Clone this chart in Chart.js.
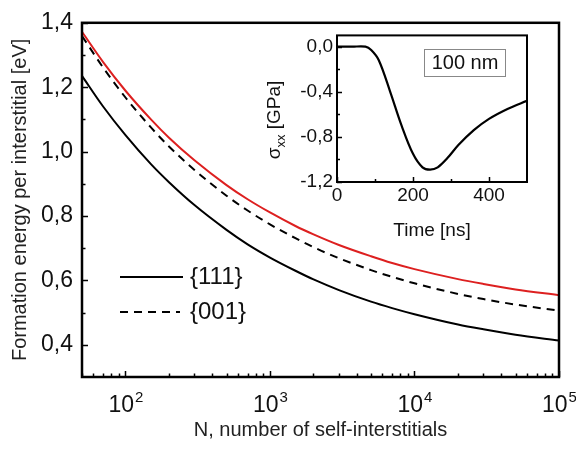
<!DOCTYPE html>
<html>
<head>
<meta charset="utf-8">
<script src="https://cdn.jsdelivr.net/npm/chart.js@4.4.1/dist/chart.umd.min.js"></script>
<style>
  html, body { margin: 0; padding: 0; background: #fff; }
  #wrap { position: relative; width: 576px; height: 450px; overflow: hidden; }
  #main { position: absolute; left: 0; top: 0; }
  #inset { position: absolute; left: 255px; top: 20px; }
</style>
</head>
<body>
<div id="wrap">
  <canvas id="main" width="576" height="450"></canvas>
  <canvas id="inset" width="281" height="240"></canvas>
</div>
<script>
// main plot: formation energy vs cluster size
const sizesN = [50, 70, 100, 150, 200, 300, 500, 700, 1000, 1500, 2000, 3000, 5000, 7000, 10000, 20000, 30000, 50000, 100000];
const energy111 = [1.235, 1.140, 1.051, 0.961, 0.905, 0.834, 0.757, 0.712, 0.671, 0.630, 0.603, 0.570, 0.534, 0.514, 0.495, 0.463, 0.448, 0.431, 0.413];
const energy001 = [1.359, 1.261, 1.168, 1.075, 1.016, 0.943, 0.863, 0.817, 0.774, 0.731, 0.703, 0.669, 0.632, 0.611, 0.591, 0.558, 0.542, 0.525, 0.506];
const energyRed = [1.372, 1.278, 1.189, 1.100, 1.043, 0.973, 0.896, 0.852, 0.811, 0.769, 0.743, 0.710, 0.675, 0.654, 0.635, 0.604, 0.589, 0.572, 0.554];
const xPowers = [2, 3, 4, 5];
const yTicks = [0.4, 0.6, 0.8, 1.0, 1.2, 1.4];
const yMinorTicks = [0.5, 0.7, 0.9, 1.1, 1.3];

// inset: stress vs time
const timeNs = [0, 40, 75, 90, 110, 140, 170, 200, 225, 245, 265, 290, 320, 360, 400, 450, 500];
const stressXX = [0, 0, 0, -0.03, -0.12, -0.40, -0.70, -0.95, -1.07, -1.09, -1.07, -0.99, -0.87, -0.74, -0.64, -0.55, -0.48];
const insetXTicks = [0, 200, 400];
const insetXMinor = [100, 300];
const insetYTicks = [-1.2, -0.8, -0.4, 0.0];
const insetYMinor = [-1.0, -0.6, -0.2];

const FONT = "'Liberation Sans', Arial, sans-serif";
const comma = v => Number(v).toFixed(1).replace(".", ",");
const pts = (xs, ys) => xs.map((x, i) => ({ x: x, y: ys[i] }));

// log minor ticks 60..90, 200..900, ...
const xMinorTicks = [];
for (let d = 10; d <= 10000; d *= 10) {
    for (let k = 2; k <= 9; k++) {
        if (k * d >= 50 && k * d < 100000) xMinorTicks.push(k * d);
    }
}

// frame + inward ticks
const frameTicks = {
    id: "frameTicks",
    afterDraw(chart, args, o) {
        const { ctx, chartArea: a, scales } = chart;
        const sx = scales.x, sy = scales.y;
        ctx.save();
        ctx.strokeStyle = "#000";
        ctx.lineWidth = 1.5;
        ctx.beginPath();
        const xt = (vals, len) => vals.forEach(v => {
            const p = Math.round(sx.getPixelForValue(v)) + 0.5;
            ctx.moveTo(p, a.bottom);
            ctx.lineTo(p, a.bottom - len);
        });
        const yt = (vals, len) => vals.forEach(v => {
            const p = Math.round(sy.getPixelForValue(v)) + 0.5;
            ctx.moveTo(a.left, p);
            ctx.lineTo(a.left + len, p);
        });
        xt(o.xMajor, o.major); xt(o.xMinor, o.minor);
        yt(o.yMajor, o.major); yt(o.yMinor, o.minor);
        ctx.stroke();
        ctx.lineWidth = o.frame;
        ctx.strokeRect(a.left, a.top, a.right - a.left, a.bottom - a.top);
        ctx.restore();
    }
};

// 10^n labels and the legend of the main plot
const mainDecor = {
    id: "mainDecor",
    afterDraw(chart) {
        const { ctx, scales: { x } } = chart;
        ctx.save();
        ctx.fillStyle = "#111";
        ctx.textBaseline = "alphabetic";
        xPowers.forEach(p => {
            const cx = x.getPixelForValue(Math.pow(10, p));
            ctx.font = "23px " + FONT;
            const w1 = ctx.measureText("10").width;
            ctx.font = "15px " + FONT;
            const w2 = ctx.measureText(String(p)).width;
            const left = cx - (w1 + w2) / 2;
            ctx.font = "23px " + FONT;
            ctx.fillText("10", left, 412);
            ctx.font = "15px " + FONT;
            ctx.fillText(String(p), left + w1 + 1, 402);
        });

        // legend
        ctx.strokeStyle = "#000";
        ctx.lineWidth = 2;
        ctx.beginPath();
        ctx.moveTo(120, 277); ctx.lineTo(183, 277);
        ctx.stroke();
        ctx.setLineDash([8, 6]);
        ctx.beginPath();
        ctx.moveTo(120, 312); ctx.lineTo(180, 312);
        ctx.stroke();
        ctx.setLineDash([]);
        ctx.font = "24px " + FONT;
        ctx.textBaseline = "middle";
        ctx.fillText("{111}", 190, 277);
        ctx.fillText("{001}", 190, 312);
        ctx.restore();
    }
};

new Chart(document.getElementById("main"), {
    type: "line",
    data: {
        datasets: [
            { label: "{111}", data: pts(sizesN, energy111), borderColor: "#000", borderWidth: 2 },
            { label: "{001}", data: pts(sizesN, energy001), borderColor: "#000", borderWidth: 2, borderDash: [8, 6] },
            { label: "other", data: pts(sizesN, energyRed), borderColor: "#dd2020", borderWidth: 2 }
        ]
    },
    options: {
        responsive: false,
        animation: false,
        events: [],
        layout: { padding: { left: 0, right: 17, top: 10, bottom: 0 }, autoPadding: false },
        elements: { point: { radius: 0 }, line: { cubicInterpolationMode: "monotone", fill: false } },
        plugins: {
            legend: { display: false },
            tooltip: { enabled: false },
            frameTicks: { xMajor: xPowers.map(p => Math.pow(10, p)), xMinor: xMinorTicks, yMajor: yTicks, yMinor: yMinorTicks, major: 6, minor: 3.5, frame: 2.5 }
        },
        scales: {
            x: {
                type: "logarithmic",
                min: 50,
                max: 100000,
                grid: { display: false, drawTicks: false },
                border: { display: false },
                ticks: { display: false },
                title: { display: true, text: "N, number of self-interstitials", color: "#222", font: { family: FONT, size: 20 }, padding: { top: 0, bottom: 8 } },
                afterFit: s => { s.height = 73; }
            },
            y: {
                min: 0.3,
                max: 1.4,
                grid: { display: false, drawTicks: false },
                border: { display: false },
                afterBuildTicks: s => { s.ticks = yTicks.map(v => ({ value: v })); },
                ticks: { color: "#111", padding: 9, font: { family: FONT, size: 23 }, callback: v => comma(v) },
                title: { display: true, text: "Formation energy per interstitial [eV]", color: "#222", font: { family: FONT, size: 20 }, padding: { top: 8, bottom: 0 } },
                afterFit: s => { s.width = 82; }
            }
        }
    },
    plugins: [frameTicks, mainDecor]
});

// inset decorations: sigma_xx title and the "100 nm" box
const insetDecor = {
    id: "insetDecor",
    afterDraw(chart) {
        const { ctx } = chart;
        ctx.save();
        ctx.fillStyle = "#111";
        ctx.strokeStyle = "#888";
        ctx.lineWidth = 1;
        ctx.strokeRect(169.5, 29.5, 81, 27);
        ctx.font = "20px " + FONT;
        ctx.textBaseline = "middle";
        ctx.textAlign = "center";
        ctx.fillText("100 nm", 210, 43);

        ctx.translate(20, 100);
        ctx.rotate(-Math.PI / 2);
        ctx.textAlign = "left";
        ctx.font = "19px " + FONT;
        const w1 = ctx.measureText("\u03c3").width;
        const w3 = ctx.measureText(" [GPa]").width;
        ctx.font = "13px " + FONT;
        const w2 = ctx.measureText("xx").width;
        let x0 = -(w1 + w2 + w3) / 2;
        ctx.font = "19px " + FONT;
        ctx.fillText("\u03c3", x0, 0);
        ctx.font = "13px " + FONT;
        ctx.fillText("xx", x0 + w1, 6);
        ctx.font = "19px " + FONT;
        ctx.fillText(" [GPa]", x0 + w1 + w2, 0);
        ctx.restore();
    }
};

new Chart(document.getElementById("inset"), {
    type: "line",
    data: {
        datasets: [
            { label: "stress", data: pts(timeNs, stressXX), borderColor: "#000", borderWidth: 2.2 }
        ]
    },
    options: {
        responsive: false,
        animation: false,
        events: [],
        layout: { padding: { left: 0, right: 9, top: 13, bottom: 0 }, autoPadding: false },
        elements: { point: { radius: 0 }, line: { tension: 0.35, fill: false } },
        plugins: {
            legend: { display: false },
            tooltip: { enabled: false },
            frameTicks: { xMajor: insetXTicks, xMinor: insetXMinor, yMajor: insetYTicks, yMinor: insetYMinor, major: 5, minor: 3, frame: 2 }
        },
        scales: {
            x: {
                type: "linear",
                min: 0,
                max: 500,
                grid: { display: false, drawTicks: false },
                border: { display: false },
                afterBuildTicks: s => { s.ticks = insetXTicks.map(v => ({ value: v })); },
                ticks: { color: "#111", padding: 2, maxRotation: 0, font: { family: FONT, size: 19 } },
                title: { display: true, text: "Time [ns]", color: "#111", font: { family: FONT, size: 19 }, padding: { top: 0, bottom: 18 } },
                afterFit: s => { s.height = 78; }
            },
            y: {
                min: -1.2,
                max: 0.1,
                grid: { display: false, drawTicks: false },
                border: { display: false },
                afterBuildTicks: s => { s.ticks = insetYTicks.map(v => ({ value: v })); },
                ticks: { color: "#111", padding: 4, font: { family: FONT, size: 19 }, callback: v => comma(v) },
                afterFit: s => { s.width = 82; }
            }
        }
    },
    plugins: [frameTicks, insetDecor]
});
</script>
</body>
</html>
